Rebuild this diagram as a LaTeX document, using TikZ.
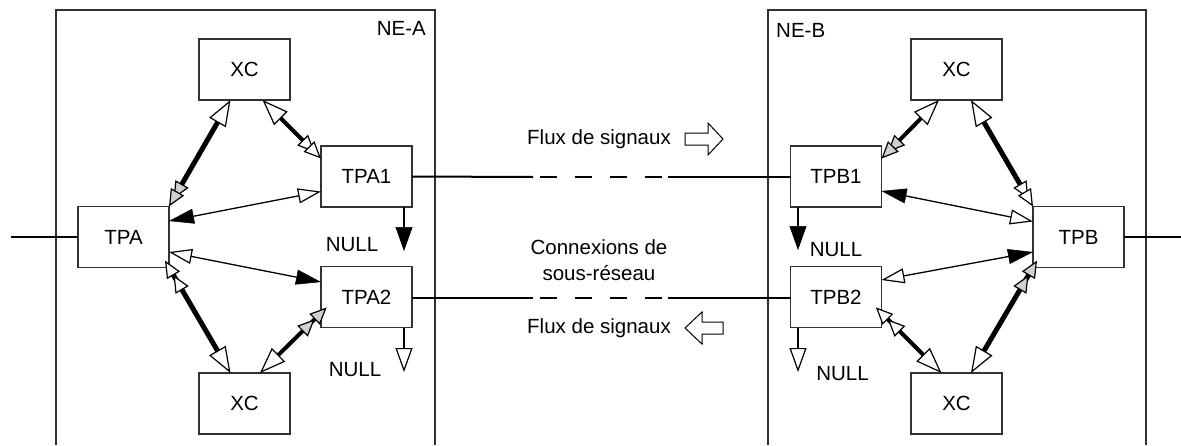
\documentclass[tikz,border=0pt]{standalone}
\usepackage{fontspec}
\setmainfont{Liberation Sans}
\usetikzlibrary{arrows.meta,calc}
\definecolor{tipgray}{RGB}{208,208,208}
\definecolor{edgegray}{RGB}{50,50,50}
\tikzset{
  aOTgD/.style={arrows={{Triangle[fill=white,line width=1.2pt,length=26pt,width=19pt]}-{Triangle[fill=tipgray,line width=1.2pt,length=17pt,width=15pt,sep=-8pt]Triangle[fill=tipgray,line width=1.2pt,length=17pt,width=15pt]}}},
  aOToD/.style={arrows={{Triangle[fill=white,line width=1.2pt,length=26pt,width=19pt]}-{Triangle[fill=white,line width=1.2pt,length=17pt,width=15pt,sep=-8pt]Triangle[fill=white,line width=1.2pt,length=17pt,width=15pt]}}},
  aoDOT/.style={arrows={{Triangle[fill=white,line width=1.2pt,length=17pt,width=15pt,sep=-8pt]Triangle[fill=white,line width=1.2pt,length=17pt,width=15pt]}-{Triangle[fill=white,line width=1.2pt,length=26pt,width=19pt]}}},
  agDOT/.style={arrows={{Triangle[fill=tipgray,line width=1.2pt,length=17pt,width=15pt,sep=-8pt]Triangle[fill=tipgray,line width=1.2pt,length=17pt,width=15pt]}-{Triangle[fill=white,line width=1.2pt,length=26pt,width=19pt]}}},
  aOSBS/.style={arrows={{Triangle[fill=white,line width=1.2pt,length=23pt,width=15pt]}-{Triangle[line width=0.5pt,length=25pt,width=15pt]}}},
  aBSOS/.style={arrows={{Triangle[line width=0.5pt,length=25pt,width=15pt]}-{Triangle[fill=white,line width=1.2pt,length=23pt,width=15pt]}}},
  aNB/.style={arrows={-{Triangle[line width=0.5pt,length=24pt,width=17pt]}}},
  aNO/.style={arrows={-{Triangle[fill=white,line width=1.2pt,length=24pt,width=17pt]}}},
  boxnode/.style={draw=edgegray,line width=1.3pt,minimum width=91pt,minimum height=61pt,inner sep=0pt,outer sep=0pt,fill=white},
  thickc/.style={line width=5pt},
  medc/.style={line width=4pt},
  thinc/.style={line width=1.3pt},
  wirec/.style={line width=2pt},
  nullc/.style={line width=2pt},
  frame/.style={draw=edgegray,line width=1.4pt},
  lbl/.style={inner sep=0pt}
}
\begin{document}
\begin{tikzpicture}[x=1pt,y=-1pt,font=\fontsize{20.5}{24}\selectfont]
\useasboundingbox (0,0) rectangle (1181,445);
% frames
\draw[frame] (56,445) -- (56,10) -- (435,10) -- (435,445);
\draw[frame] (768,445) -- (768,10) -- (1146,10) -- (1146,445);
\node[lbl,anchor=east] (nea) at (426,28) {NE-A};
\node[lbl,anchor=west] (neb) at (776,30) {NE-B};
% boxes
\node[boxnode] (xcA1) at (244.5,69.5) {XC};
\node[boxnode] (tpa1) at (366.5,176.5) {TPA1};
\node[boxnode] (tpa)  at (123.5,237) {TPA};
\node[boxnode] (tpa2) at (366.5,297) {TPA2};
\node[boxnode] (xcA2) at (244.5,403.5) {XC};
\node[boxnode] (xcB1) at (956.5,69.5) {XC};
\node[boxnode] (tpb1) at (836,176.5) {TPB1};
\node[boxnode] (tpb)  at (1078.5,237) {TPB};
\node[boxnode] (tpb2) at (836,297) {TPB2};
\node[boxnode] (xcB2) at (956.5,403.5) {XC};
% external wires
\coordinate (inA) at (11,237);
\coordinate (outB) at (1181,237);
\draw[wirec] (inA) -- (tpa.west);
\draw[wirec] (tpb.east) -- (outB);
% long lines
\coordinate (l1a) at (533,177); \coordinate (l1b) at (540,177);
\coordinate (l1c) at (662,177); \coordinate (l1d) at (668,177);
\coordinate (l2a) at (533,298); \coordinate (l2b) at (540,298);
\coordinate (l2c) at (662,298); \coordinate (l2d) at (668,298);
\draw[wirec] (tpa1.east) -- (l1a);
\draw[wirec,dash pattern=on 17pt off 18pt] (l1b) -- (l1c);
\draw[wirec] (l1d) -- (tpb1.west |- l1d);
\draw[wirec] (tpa2.east |- l2a) -- (l2a);
\draw[wirec,dash pattern=on 17pt off 18pt] (l2b) -- (l2c);
\draw[wirec] (l2d) -- (tpb2.west |- l2d);
% NE-A connectors
\draw[thickc,aOTgD] ($(xcA1.south)+(-14,0)$) -- (tpa.north east);
\draw[medc,aOToD] ($(xcA1.south)+(18,0)$) -- ($(tpa1.west)+(0,-18)$);
\draw[thinc,aOSBS] ($(tpa1.west)+(0,15)$) -- ($(tpa.east)+(0,-16)$);
\draw[thinc,aOSBS] ($(tpa.east)+(0,15)$) -- ($(tpa2.west)+(0,-15)$);
\draw[thickc,aoDOT] (tpa.south east) -- ($(xcA2.north)+(-14,0)$);
\draw[medc,agDOT] ($(tpa2.west)+(0,16)$) -- ($(xcA2.north)+(15.5,0)$);
% NE-B connectors
\draw[medc,aOTgD] ($(xcB1.south)+(-17.5,0)$) -- ($(tpb1.east)+(0,-18)$);
\draw[thickc,aOToD] ($(xcB1.south)+(14.5,0)$) -- (tpb.north west);
\draw[thinc,aBSOS] ($(tpb1.east)+(0,14.5)$) -- ($(tpb.west)+(0,-15.5)$);
\draw[thinc,aBSOS] ($(tpb.west)+(0,15)$) -- ($(tpb2.east)+(0,-17)$);
\draw[thickc,agDOT] (tpb.south west) -- ($(xcB2.north)+(14.5,0)$);
\draw[medc,aoDOT] ($(tpb2.east)+(0,16)$) -- ($(xcB2.north)+(-15,0)$);
% NULL
\coordinate (nA1) at (404,251);
\coordinate (nA2) at (404,372);
\coordinate (nB1) at (798,250);
\coordinate (nB2) at (798,372);
\draw[nullc,aNB] (tpa1.south -| nA1) -- (nA1);
\draw[nullc,aNO] (tpa2.south -| nA2) -- (nA2);
\draw[nullc,aNB] (tpb1.south -| nB1) -- (nB1);
\draw[nullc,aNO] (tpb2.south -| nB2) -- (nB2);
\node[lbl] (nullA1) at (352,244.5) {NULL};
\node[lbl] (nullA2) at (355,370) {NULL};
\node[lbl] (nullB1) at (836,250) {NULL};
\node[lbl] (nullB2) at (842.5,374) {NULL};
% middle texts
\node[lbl] (flux1) at (599,139) {Flux de signaux};
\node[lbl,align=center,font=\fontsize{20.5}{26}\selectfont] (conn) at (599,260) {Connexions de\\sous-réseau};
\node[lbl] (flux2) at (599,328) {Flux de signaux};
% block arrows
\draw[line width=1pt,fill=white] (685,133) -- (708,133) -- (708,123) -- (723,139) -- (708,155) -- (708,145) -- (685,145) -- cycle;
\draw[line width=1pt,fill=white] (723,322) -- (702,322) -- (702,312) -- (685,328) -- (702,344) -- (702,334) -- (723,334) -- cycle;
\end{tikzpicture}
\end{document}
